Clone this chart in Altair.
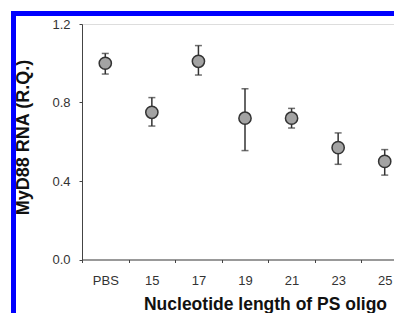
import altair as alt
import pandas as pd

labels = ["PBS", "15", "17", "19", "21", "23", "25"]
means = [1.00, 0.75, 1.01, 0.72, 0.72, 0.57, 0.50]
upper = [1.05, 0.825, 1.09, 0.87, 0.77, 0.645, 0.56]
lower = [0.945, 0.68, 0.94, 0.555, 0.67, 0.485, 0.43]
y_ticks = [round(i * 0.1, 1) for i in range(13)]

df = pd.DataFrame({"len": labels, "mean": means, "hi": upper, "lo": lower})
frame = pd.DataFrame({"k": [0]})

FONT = "Liberation Sans"
x_enc = alt.X(
    "len:N",
    sort=labels,
    scale=alt.Scale(range=[0, 326], paddingInner=0, paddingOuter=0),
    axis=alt.Axis(
        title="Nucleotide length of PS oligo",
        titleFont=FONT, titleFontSize=17.5, titleFontWeight="bold", titleColor="#111",
        titleX=183, titleY=49.5, titleAlign="center", titleBaseline="alphabetic",
        labelAngle=0, labelFont=FONT, labelFontSize=13, labelColor="#333",
        labelPadding=12, tickBand="extent", tickSize=3, tickColor="#444",
        domainColor="#444", grid=False,
    ),
)
y_scale = alt.Scale(domain=[0, 1.2], nice=False, zero=True)
y_axis = alt.Axis(
    title="MyD88 RNA (R.Q.)",
    titleFont=FONT, titleFontSize=18, titleFontWeight="bold", titleColor="#111",
    titleAngle=270, titleX=-54, titleY=113, titleAlign="center", titleBaseline="alphabetic",
    values=y_ticks,
    labelExpr="indexof(['0.0','0.4','0.8','1.2'], format(datum.value,'.1f')) >= 0 ? format(datum.value,'.1f') : ''",
    labelFont=FONT, labelFontSize=13, labelColor="#333", labelPadding=9,
    tickSize=3, tickColor="#444", domainColor="#444", grid=False,
)

base = alt.Chart(df)
bars = base.mark_rule(color="#333", strokeWidth=1.5).encode(
    x=x_enc, y=alt.Y("lo:Q", scale=y_scale, axis=y_axis), y2="hi:Q"
)
cap_hi = base.mark_tick(color="#333", size=7, thickness=1.5).encode(x=x_enc, y=alt.Y("hi:Q", scale=y_scale))
cap_lo = base.mark_tick(color="#333", size=7, thickness=1.5).encode(x=x_enc, y=alt.Y("lo:Q", scale=y_scale))
pts = base.mark_point(filled=True, shape="circle", size=150, fill="#a3a3a3", stroke="#333",
                      strokeWidth=1.5, opacity=1).encode(x=x_enc, y=alt.Y("mean:Q", scale=y_scale))

blue_top = alt.Chart(frame).mark_rule(color="#0000ff", strokeWidth=5, strokeCap="butt").encode(
    x=alt.value(-71), x2=alt.value(330), y=alt.value(-10.5)
)
blue_left = alt.Chart(frame).mark_rule(color="#0000ff", strokeWidth=5, strokeCap="butt").encode(
    x=alt.value(-68.5), y=alt.value(-13), y2=alt.value(300)
)

chart = alt.layer(bars, cap_hi, cap_lo, pts, blue_top, blue_left).properties(
    width=312, height=235.5,
    autosize=alt.AutoSizeParams(type="none"),
    padding={"left": 74, "top": 16, "right": 0, "bottom": 53},
).configure_view(stroke=None).configure(background="white")

chart.save("out.html", embed_options={"renderer": "svg", "actions": False})
